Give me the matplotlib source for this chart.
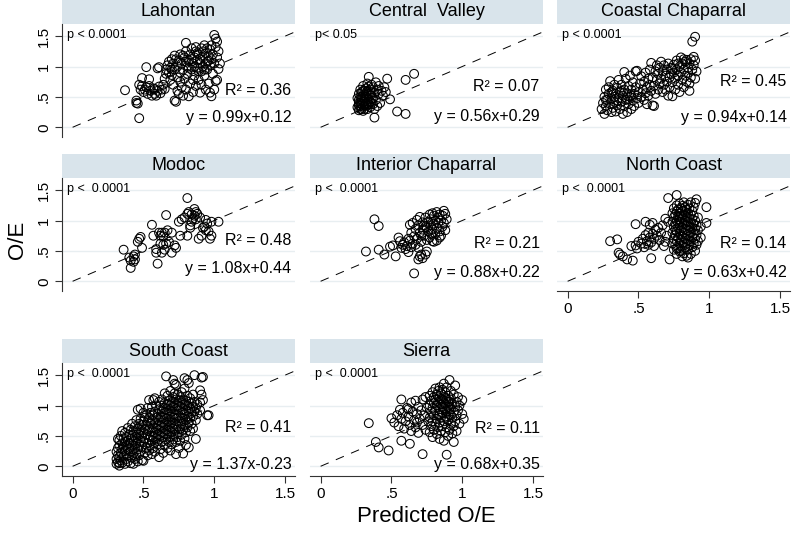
import numpy as np
import matplotlib
matplotlib.use("Agg")
import matplotlib.pyplot as plt
from matplotlib.patches import Rectangle

plt.rcParams['font.family'] = ['Liberation Sans', 'DejaVu Sans']

lahontan = [
    (0.37, 0.61), (0.45, 0.44), (0.45, 0.40), (0.46, 0.39), (0.47, 0.15), (0.52, 0.99), (0.60, 0.97),
    (0.61, 0.99), (0.49, 0.81), (0.54, 0.79), (0.47, 0.70), (0.48, 0.62), (0.50, 0.58), (0.52, 0.66),
    (0.53, 0.55), (0.55, 0.60), (0.56, 0.52), (0.57, 0.64), (0.58, 0.55), (0.59, 0.52), (0.60, 0.60),
    (0.61, 0.67), (0.62, 0.56), (0.63, 0.62), (0.64, 0.70), (0.65, 0.63), (0.49, 0.68), (0.51, 0.62),
    (0.54, 0.68), (0.58, 0.63), (0.65, 0.80), (0.66, 0.88), (0.66, 0.95), (0.67, 1.02), (0.68, 0.90),
    (0.68, 1.08), (0.69, 0.78), (0.69, 0.98), (0.70, 1.12), (0.70, 0.86), (0.71, 1.05), (0.71, 0.70),
    (0.72, 0.95), (0.72, 1.18), (0.73, 0.42), (0.72, 0.44), (0.74, 0.60), (0.74, 0.82), (0.74, 1.00),
    (0.75, 1.10), (0.75, 0.55), (0.76, 0.90), (0.76, 1.20), (0.77, 0.66), (0.77, 1.05), (0.78, 0.95),
    (0.78, 0.52), (0.79, 1.15), (0.79, 0.80), (0.80, 1.39), (0.80, 1.25), (0.80, 0.62), (0.81, 1.00),
    (0.81, 0.88), (0.82, 1.10), (0.82, 0.51), (0.83, 1.20), (0.83, 0.72), (0.84, 0.95), (0.84, 1.30),
    (0.85, 1.05), (0.85, 0.58), (0.86, 1.15), (0.86, 0.85), (0.87, 1.25), (0.87, 0.68), (0.88, 0.98),
    (0.88, 1.10), (0.89, 1.20), (0.89, 0.78), (0.90, 1.05), (0.90, 0.57), (0.91, 1.30), (0.91, 0.92),
    (0.92, 1.15), (0.92, 1.00), (0.93, 1.35), (0.93, 0.85), (0.94, 1.22), (0.94, 0.62), (0.95, 1.08),
    (0.95, 0.95), (0.96, 1.18), (0.96, 0.72), (0.97, 1.28), (0.97, 1.02), (0.98, 0.51), (0.98, 1.12),
    (0.99, 1.20), (0.99, 0.88), (1.00, 1.52), (1.00, 1.05), (1.01, 1.46), (1.01, 0.76), (1.01, 1.32),
    (1.02, 1.41), (1.02, 0.78), (1.02, 1.15), (1.03, 1.25), (1.04, 1.05), (1.03, 0.96), (1.00, 0.62),
    (0.97, 0.57), (0.86, 1.00), (0.88, 1.22), (0.90, 1.12), (0.92, 1.25), (0.94, 1.05), (0.96, 1.10),
    (0.84, 1.12), (0.82, 0.98), (0.80, 1.08), (0.78, 1.18), (0.89, 0.92), (0.93, 0.95), (0.95, 1.30),
    (0.98, 1.35), (0.87, 1.32), (0.91, 0.70), (0.85, 0.78), (0.76, 0.75), (0.73, 1.12), (0.70, 0.95),
]

central_valley = [
    (0.34, 0.83), (0.47, 0.80), (0.60, 0.78), (0.66, 0.88), (0.45, 0.66), (0.49, 0.46), (0.42, 0.40),
    (0.38, 0.16), (0.54, 0.26), (0.60, 0.22), (0.46, 0.58), (0.44, 0.52), (0.40, 0.62), (0.39, 0.74),
    (0.36, 0.70), (0.33, 0.72), (0.30, 0.68), (0.28, 0.62), (0.27, 0.55), (0.26, 0.48), (0.27, 0.40),
    (0.26, 0.33), (0.27, 0.28), (0.28, 0.35), (0.29, 0.45), (0.30, 0.52), (0.31, 0.60), (0.32, 0.50),
    (0.33, 0.42), (0.34, 0.55), (0.35, 0.62), (0.36, 0.48), (0.37, 0.38), (0.38, 0.57), (0.29, 0.30),
    (0.31, 0.36), (0.33, 0.30), (0.35, 0.33), (0.30, 0.42), (0.28, 0.50), (0.32, 0.64), (0.34, 0.67),
    (0.36, 0.58), (0.30, 0.27), (0.27, 0.45), (0.29, 0.58), (0.41, 0.55), (0.43, 0.60), (0.39, 0.45),
    (0.35, 0.42), (0.31, 0.47), (0.28, 0.40), (0.33, 0.36), (0.37, 0.66), (0.40, 0.35), (0.41, 0.68),
    (0.38, 0.30), (0.28, 0.30), (0.29, 0.38), (0.30, 0.34), (0.31, 0.42), (0.32, 0.38), (0.32, 0.56),
    (0.33, 0.60), (0.34, 0.46), (0.35, 0.52), (0.36, 0.40), (0.30, 0.60), (0.29, 0.50), (0.31, 0.30),
    (0.34, 0.38), (0.37, 0.48), (0.27, 0.36),
]

coastal_chaparral = [
    (0.24, 0.30), (0.25, 0.40), (0.26, 0.22), (0.26, 0.50), (0.27, 0.35), (0.27, 0.62), (0.28, 0.28),
    (0.28, 0.45), (0.29, 0.55), (0.30, 0.76), (0.30, 0.38), (0.31, 0.25), (0.31, 0.48), (0.32, 0.60),
    (0.32, 0.32), (0.33, 0.70), (0.33, 0.42), (0.34, 0.26), (0.34, 0.55), (0.35, 0.36), (0.35, 0.65),
    (0.36, 0.48), (0.36, 0.78), (0.37, 0.30), (0.37, 0.58), (0.38, 0.42), (0.38, 0.70), (0.39, 0.22),
    (0.39, 0.52), (0.40, 0.91), (0.40, 0.35), (0.40, 0.62), (0.41, 0.45), (0.41, 0.80), (0.42, 0.25),
    (0.42, 0.56), (0.43, 0.38), (0.43, 0.68), (0.44, 0.50), (0.44, 0.85), (0.45, 0.30), (0.45, 0.62),
    (0.46, 0.44), (0.46, 0.74), (0.47, 0.55), (0.47, 0.35), (0.48, 0.66), (0.48, 0.92), (0.49, 0.48),
    (0.49, 0.93), (0.50, 0.58), (0.50, 0.40), (0.29, 0.66), (0.31, 0.58), (0.35, 0.44), (0.38, 0.60),
    (0.42, 0.46), (0.45, 0.52), (0.33, 0.50), (0.27, 0.45), (0.51, 0.72), (0.52, 0.50), (0.52, 0.84),
    (0.53, 0.62), (0.54, 0.45), (0.54, 0.75), (0.55, 0.90), (0.55, 0.56), (0.56, 0.66), (0.56, 0.38),
    (0.57, 0.80), (0.57, 0.52), (0.58, 0.95), (0.58, 0.70), (0.59, 0.60), (0.59, 1.06), (0.60, 0.36),
    (0.60, 0.82), (0.61, 0.35), (0.61, 0.68), (0.62, 0.92), (0.62, 0.55), (0.63, 0.78), (0.63, 1.02),
    (0.64, 0.62), (0.64, 0.88), (0.65, 0.72), (0.65, 0.98), (0.66, 1.08), (0.66, 0.80), (0.67, 0.58),
    (0.67, 0.92), (0.68, 1.02), (0.68, 0.70), (0.69, 0.85), (0.69, 0.62), (0.70, 0.95), (0.70, 0.75),
    (0.71, 1.05), (0.71, 0.52), (0.72, 0.82), (0.72, 0.66), (0.73, 0.98), (0.73, 0.88), (0.74, 0.51),
    (0.74, 0.74), (0.75, 1.03), (0.75, 0.90), (0.76, 0.80), (0.76, 0.62), (0.77, 1.10), (0.77, 0.95),
    (0.78, 0.85), (0.78, 0.70), (0.79, 1.00), (0.79, 0.58), (0.80, 1.15), (0.80, 0.90), (0.81, 0.78),
    (0.81, 1.05), (0.82, 0.95), (0.82, 0.66), (0.83, 1.08), (0.83, 0.85), (0.84, 1.11), (0.84, 0.75),
    (0.85, 0.98), (0.85, 0.90), (0.86, 0.60), (0.86, 1.05), (0.87, 1.12), (0.87, 0.82), (0.88, 0.95),
    (0.88, 1.41), (0.89, 1.16), (0.89, 1.02), (0.90, 1.49), (0.90, 1.10), (0.91, 0.92), (0.90, 0.80),
    (0.74, 0.96), (0.78, 1.05), (0.82, 1.12), (0.86, 0.72),
]

modoc = [
    (0.36, 0.52), (0.40, 0.39), (0.41, 0.34), (0.41, 0.22), (0.43, 0.41), (0.44, 0.44), (0.44, 0.36),
    (0.43, 0.32), (0.46, 0.65), (0.47, 0.70), (0.48, 0.73), (0.49, 0.55), (0.56, 0.93), (0.60, 0.29),
    (0.59, 0.47), (0.59, 0.53), (0.57, 0.75), (0.61, 0.80), (0.62, 0.75), (0.63, 0.80), (0.64, 0.74),
    (0.65, 0.80), (0.62, 0.62), (0.64, 0.60), (0.66, 0.62), (0.63, 0.47), (0.65, 0.52), (0.67, 0.84),
    (0.66, 1.09), (0.70, 0.80), (0.72, 0.59), (0.70, 0.47), (0.73, 0.55), (0.68, 0.65), (0.75, 0.98),
    (0.76, 0.75), (0.77, 1.02), (0.79, 1.05), (0.81, 1.37), (0.81, 1.11), (0.82, 1.14), (0.83, 0.92),
    (0.84, 0.98), (0.85, 1.03), (0.83, 0.88), (0.86, 1.19), (0.87, 1.14), (0.88, 1.11), (0.87, 1.02),
    (0.89, 0.70), (0.91, 0.75), (0.93, 0.90), (0.94, 0.84), (0.95, 0.95), (0.94, 1.01), (0.96, 0.82),
    (0.97, 0.70), (0.98, 0.75), (0.98, 0.98), (1.03, 0.98), (0.81, 0.75), (0.84, 1.10), (0.86, 1.08),
    (0.90, 1.05), (0.92, 0.88),
]

interior_chaparral = [
    (0.38, 1.02), (0.41, 0.91), (0.32, 0.49), (0.41, 0.52), (0.45, 0.44), (0.49, 0.57), (0.51, 0.59),
    (0.53, 0.41), (0.55, 0.72), (0.58, 0.60), (0.59, 0.64), (0.57, 0.55), (0.61, 0.58), (0.62, 0.48),
    (0.60, 0.53), (0.63, 0.67), (0.66, 0.13), (0.69, 0.36), (0.70, 0.41), (0.71, 0.44), (0.74, 0.44),
    (0.75, 0.49), (0.72, 0.38), (0.63, 0.93), (0.65, 0.96), (0.68, 1.01), (0.70, 1.06), (0.64, 0.80),
    (0.66, 0.74), (0.67, 0.86), (0.68, 0.70), (0.69, 0.92), (0.70, 0.80), (0.71, 0.65), (0.72, 0.97),
    (0.72, 0.85), (0.73, 0.75), (0.74, 1.05), (0.74, 0.90), (0.75, 0.68), (0.76, 0.98), (0.76, 0.82),
    (0.77, 1.10), (0.77, 0.72), (0.78, 0.92), (0.78, 1.02), (0.79, 0.85), (0.79, 0.66), (0.80, 1.08),
    (0.80, 0.95), (0.80, 0.65), (0.81, 0.78), (0.81, 1.00), (0.82, 1.14), (0.82, 0.88), (0.82, 0.67),
    (0.83, 0.96), (0.83, 1.05), (0.84, 0.82), (0.84, 0.72), (0.85, 1.00), (0.85, 0.75), (0.86, 1.08),
    (0.86, 0.90), (0.87, 1.16), (0.87, 0.96), (0.88, 1.11), (0.88, 0.84), (0.89, 1.02), (0.75, 0.88),
    (0.78, 0.78), (0.73, 0.92), (0.71, 0.75), (0.79, 1.12), (0.84, 1.10), (0.62, 0.70), (0.65, 0.62),
    (0.67, 0.60), (0.56, 0.66), (0.64, 0.56), (0.69, 0.55),
]

north_coast = [
    (0.30, 0.66), (0.35, 0.69), (0.36, 0.47), (0.37, 0.44), (0.39, 0.41), (0.42, 0.36), (0.46, 0.34),
    (0.48, 0.94), (0.45, 0.58), (0.48, 0.59), (0.50, 0.65), (0.49, 0.54), (0.55, 0.98), (0.58, 0.93),
    (0.60, 0.96), (0.53, 0.70), (0.55, 0.76), (0.56, 0.66), (0.57, 0.80), (0.58, 0.72), (0.59, 0.64),
    (0.60, 0.78), (0.61, 0.70), (0.62, 0.85), (0.63, 0.75), (0.64, 0.88), (0.65, 0.68), (0.52, 0.62),
    (0.54, 0.56), (0.57, 0.60), (0.61, 0.58), (0.59, 0.38), (0.69, 1.03), (0.71, 0.98), (0.69, 0.65),
    (0.72, 0.36), (0.71, 1.37), (0.77, 1.42), (0.77, 0.54), (0.79, 0.49), (0.66, 0.80), (0.67, 0.92),
    (0.68, 0.58), (0.70, 0.75),
    (0.74, 0.62), (0.74, 0.80), (0.74, 0.98), (0.74, 1.12),
    (0.75, 0.52), (0.75, 0.70), (0.75, 0.90), (0.75, 1.05), (0.75, 1.20),
    (0.76, 0.60), (0.76, 0.76), (0.76, 0.85), (0.76, 0.95), (0.76, 1.10),
    (0.77, 0.45), (0.77, 0.66), (0.77, 0.82), (0.77, 1.00), (0.77, 1.15), (0.77, 1.25),
    (0.78, 0.55), (0.78, 0.72), (0.78, 0.88), (0.78, 0.96), (0.78, 1.06), (0.78, 1.18),
    (0.79, 0.62), (0.79, 0.78), (0.79, 0.92), (0.79, 1.02), (0.79, 1.12), (0.79, 1.28),
    (0.80, 0.50), (0.80, 0.68), (0.80, 0.84), (0.80, 0.98), (0.80, 1.08), (0.80, 1.20),
    (0.81, 0.41), (0.81, 0.58), (0.81, 0.74), (0.81, 0.88), (0.81, 1.04), (0.81, 1.16), (0.81, 1.24),
    (0.82, 0.46), (0.82, 0.64), (0.82, 0.80), (0.82, 0.94), (0.82, 1.10), (0.82, 1.30),
    (0.83, 0.55), (0.83, 0.70), (0.83, 0.86), (0.83, 1.00), (0.83, 1.14), (0.83, 1.22),
    (0.84, 0.42), (0.84, 0.62), (0.84, 0.76), (0.84, 0.92), (0.84, 1.06), (0.84, 1.18),
    (0.85, 0.39), (0.85, 0.52), (0.85, 0.68), (0.85, 0.84), (0.85, 0.98), (0.85, 1.12), (0.85, 1.26),
    (0.86, 0.60), (0.86, 0.74), (0.86, 0.90), (0.86, 1.04), (0.86, 1.20),
    (0.87, 0.45), (0.87, 0.66), (0.87, 0.80), (0.87, 0.96), (0.87, 1.10), (0.87, 1.30),
    (0.88, 0.56), (0.88, 0.72), (0.88, 0.88), (0.88, 1.02), (0.88, 1.16),
    (0.89, 0.62), (0.89, 0.78), (0.89, 0.94), (0.89, 1.08), (0.89, 1.22),
    (0.90, 0.50), (0.90, 0.70), (0.90, 0.86), (0.90, 1.00), (0.90, 1.29),
    (0.91, 0.60), (0.91, 0.76), (0.91, 0.92), (0.91, 1.35),
    (0.92, 0.66), (0.92, 0.84), (0.92, 1.05),
    (0.94, 0.72), (0.94, 0.90), (0.98, 0.96), (0.98, 1.22),
]

south_coast = [
    (0.31, 0.04), (0.31, 0.24), (0.31, 0.12),
    (0.32, 0.07), (0.32, 0.30), (0.32, 0.45), (0.32, 0.18),
    (0.33, 0.01), (0.33, 0.05), (0.33, 0.43), (0.33, 0.15), (0.33, 0.34),
    (0.34, 0.22), (0.34, 0.10), (0.34, 0.50),
    (0.35, 0.28), (0.35, 0.38), (0.35, 0.06), (0.35, 0.58),
    (0.36, 0.16), (0.36, 0.46), (0.36, 0.32),
    (0.37, 0.04), (0.37, 0.25), (0.37, 0.55), (0.37, 0.40),
    (0.38, 0.12), (0.38, 0.35), (0.38, 0.48), (0.38, 0.20),
    (0.39, 0.63), (0.39, 0.28), (0.39, 0.08), (0.39, 0.42),
    (0.40, 0.18), (0.40, 0.38), (0.40, 0.52), (0.40, 0.30),
    (0.41, 0.05), (0.41, 0.25), (0.41, 0.45), (0.41, 0.60),
    (0.42, 0.14), (0.42, 0.34), (0.42, 0.50), (0.42, 0.70),
    (0.43, 0.04), (0.43, 0.22), (0.43, 0.42), (0.43, 0.58),
    (0.44, 0.30), (0.44, 0.48), (0.44, 0.66), (0.44, 0.12),
    (0.45, 0.76), (0.45, 0.20), (0.45, 0.38), (0.45, 0.55),
    (0.46, 0.93), (0.46, 0.08), (0.46, 0.28), (0.46, 0.46), (0.46, 0.62),
    (0.47, 0.35), (0.47, 0.52), (0.47, 0.70), (0.47, 0.18),
    (0.48, 0.95), (0.48, 0.25), (0.48, 0.42), (0.48, 0.60), (0.48, 0.78),
    (0.49, 0.10), (0.49, 0.32), (0.49, 0.50), (0.49, 0.68),
    (0.50, 0.09), (0.50, 0.40), (0.50, 0.56), (0.50, 0.74), (0.50, 0.88),
    (0.51, 0.22), (0.51, 0.46), (0.51, 0.62), (0.51, 0.80),
    (0.52, 0.30), (0.52, 0.52), (0.52, 0.68), (0.52, 0.85),
    (0.53, 0.18), (0.53, 0.38), (0.53, 0.58), (0.53, 0.74), (0.53, 0.96),
    (0.54, 1.09), (0.54, 0.44), (0.54, 0.62), (0.54, 0.80), (0.54, 0.26),
    (0.55, 0.34), (0.55, 0.50), (0.55, 0.70), (0.55, 0.88),
    (0.56, 0.20), (0.56, 0.42), (0.56, 0.58), (0.56, 0.76), (0.56, 0.98),
    (0.57, 1.09), (0.57, 0.48), (0.57, 0.64), (0.57, 0.84), (0.57, 0.30),
    (0.58, 1.12), (0.58, 0.24), (0.58, 0.40), (0.58, 0.56), (0.58, 0.72), (0.58, 0.90),
    (0.59, 0.46), (0.59, 0.62), (0.59, 0.80), (0.59, 1.00),
    (0.60, 0.36), (0.60, 0.52), (0.60, 0.68), (0.60, 0.86),
    (0.61, 0.15), (0.61, 0.44), (0.61, 0.60), (0.61, 0.76), (0.61, 0.94), (0.61, 1.06),
    (0.62, 0.28), (0.62, 0.50), (0.62, 0.66), (0.62, 0.82), (0.62, 1.00),
    (0.63, 0.40), (0.63, 0.56), (0.63, 0.72), (0.63, 0.90), (0.63, 1.10),
    (0.64, 0.22), (0.64, 0.48), (0.64, 0.64), (0.64, 0.80), (0.64, 0.96),
    (0.65, 0.34), (0.65, 0.54), (0.65, 0.70), (0.65, 0.88), (0.65, 1.04), (0.65, 1.20),
    (0.66, 1.48), (0.66, 0.44), (0.66, 0.60), (0.66, 0.78), (0.66, 0.94),
    (0.67, 0.30), (0.67, 0.52), (0.67, 0.68), (0.67, 0.86), (0.67, 1.02), (0.67, 1.16),
    (0.68, 0.40), (0.68, 0.58), (0.68, 0.74), (0.68, 0.92), (0.68, 1.08),
    (0.69, 0.26), (0.69, 0.48), (0.69, 0.64), (0.69, 0.82), (0.69, 1.00), (0.69, 1.24),
    (0.70, 0.36), (0.70, 0.56), (0.70, 0.72), (0.70, 0.90), (0.70, 1.06),
    (0.71, 1.42), (0.71, 0.44), (0.71, 0.62), (0.71, 0.80), (0.71, 0.98), (0.71, 1.14),
    (0.72, 1.36), (0.72, 0.52), (0.72, 0.70), (0.72, 0.86), (0.72, 1.04), (0.72, 1.20),
    (0.73, 0.20), (0.73, 1.34), (0.73, 0.40), (0.73, 0.60), (0.73, 0.78), (0.73, 0.94), (0.73, 1.10),
    (0.74, 0.48), (0.74, 0.66), (0.74, 0.84), (0.74, 1.00), (0.74, 1.18),
    (0.75, 0.30), (0.75, 0.56), (0.75, 0.74), (0.75, 0.92), (0.75, 1.08),
    (0.76, 0.42), (0.76, 0.62), (0.76, 0.80), (0.76, 0.98), (0.76, 1.14),
    (0.77, 0.52), (0.77, 0.70), (0.77, 0.88), (0.77, 1.04), (0.77, 1.22),
    (0.78, 0.21), (0.78, 0.60), (0.78, 0.78), (0.78, 0.94), (0.78, 1.10),
    (0.79, 1.45), (0.79, 0.46), (0.79, 0.68), (0.79, 0.86), (0.79, 1.02), (0.79, 1.28),
    (0.80, 0.35), (0.80, 0.56), (0.80, 0.76), (0.80, 0.92), (0.80, 1.08),
    (0.81, 1.42), (0.81, 0.64), (0.81, 0.82), (0.81, 1.00), (0.81, 1.16),
    (0.82, 1.37), (0.82, 0.31), (0.82, 0.72), (0.82, 0.90), (0.82, 1.06),
    (0.83, 0.58), (0.83, 0.80), (0.83, 0.96), (0.83, 1.12),
    (0.84, 0.70), (0.84, 0.88), (0.84, 1.04),
    (0.85, 0.62), (0.85, 0.82), (0.85, 0.98), (0.85, 1.18),
    (0.86, 1.50), (0.86, 0.90), (0.86, 1.06),
    (0.87, 0.45), (0.87, 0.76), (0.87, 0.96),
    (0.88, 0.86), (0.88, 1.02),
    (0.90, 1.25), (0.90, 1.05), (0.90, 0.92),
    (0.91, 1.46), (0.91, 1.18), (0.92, 1.47), (0.92, 1.09),
    (0.95, 0.84), (0.96, 0.84),
]

sierra = [
    (0.34, 0.71), (0.39, 0.40), (0.41, 0.31), (0.48, 0.26), (0.57, 0.42), (0.63, 0.37), (0.72, 0.20),
    (0.89, 0.19), (0.50, 0.79), (0.56, 0.93), (0.57, 1.10),
    (0.52, 0.72), (0.54, 0.84), (0.55, 0.66), (0.57, 0.78), (0.58, 0.88), (0.59, 0.62), (0.60, 0.74),
    (0.61, 0.96), (0.62, 0.82), (0.63, 0.68), (0.64, 1.05), (0.64, 0.58), (0.65, 0.90), (0.66, 0.76),
    (0.67, 1.08), (0.67, 0.64), (0.68, 0.86), (0.69, 0.98), (0.69, 0.55), (0.70, 0.78), (0.71, 0.92),
    (0.72, 0.68), (0.72, 1.10), (0.73, 0.84), (0.74, 0.60), (0.75, 0.96), (0.76, 0.74), (0.74, 1.14),
    (0.68, 0.72), (0.62, 0.94),
    (0.77, 0.56), (0.77, 0.80), (0.77, 1.00), (0.77, 1.16),
    (0.78, 0.66), (0.78, 0.90), (0.78, 1.08),
    (0.79, 0.48), (0.79, 0.74), (0.79, 0.96), (0.79, 1.22),
    (0.80, 0.60), (0.80, 0.84), (0.80, 1.04), (0.80, 1.14),
    (0.81, 0.70), (0.81, 0.92), (0.81, 1.10), (0.81, 1.28),
    (0.82, 0.53), (0.82, 0.78), (0.82, 1.00), (0.82, 1.18),
    (0.83, 0.64), (0.83, 0.86), (0.83, 1.06), (0.83, 1.24),
    (0.84, 0.45), (0.84, 0.72), (0.84, 0.94), (0.84, 1.12), (0.84, 1.30),
    (0.85, 0.58), (0.85, 0.80), (0.85, 1.02), (0.85, 1.20),
    (0.86, 0.66), (0.86, 0.88), (0.86, 1.08), (0.86, 1.26),
    (0.87, 0.42), (0.87, 0.74), (0.87, 0.96), (0.87, 1.14), (0.87, 1.36),
    (0.88, 0.56), (0.88, 0.82), (0.88, 1.02), (0.88, 1.22),
    (0.89, 0.64), (0.89, 0.90), (0.89, 1.10), (0.89, 1.30),
    (0.90, 0.50), (0.90, 0.76), (0.90, 0.98), (0.90, 1.16),
    (0.91, 0.60), (0.91, 0.86), (0.91, 1.06), (0.91, 1.42),
    (0.92, 0.70), (0.92, 0.94), (0.92, 1.12), (0.92, 1.24),
    (0.93, 0.54), (0.93, 0.80), (0.93, 1.02),
    (0.94, 0.40), (0.94, 0.66), (0.94, 0.90), (0.94, 1.18),
    (0.95, 0.74), (0.95, 0.98), (0.95, 1.33),
    (0.96, 0.58), (0.96, 0.84), (0.96, 1.06),
    (0.97, 0.92), (0.97, 1.14), (0.98, 0.70), (0.98, 1.00),
    (1.00, 1.09), (1.00, 0.86), (1.01, 0.78),
    (0.84, 0.84), (0.86, 0.98), (0.88, 0.92), (0.90, 1.06), (0.92, 0.84), (0.88, 1.12), (0.85, 1.10),
    (0.89, 0.80), (0.91, 0.96), (0.87, 1.04),
]

titles = ["Lahontan", "Central  Valley", "Coastal Chaparral", "Modoc", "Interior Chaparral",
          "North Coast", "South Coast", "Sierra"]
datasets = [lahontan, central_valley, coastal_chaparral, modoc, interior_chaparral,
            north_coast, south_coast, sierra]
p_text = ["p < 0.0001", "p< 0.05", "p < 0.0001", "p <  0.0001", "p <  0.0001",
          "p <  0.0001", "p <  0.0001", "p <  0.0001"]
r2 = ["0.36", "0.07", "0.45", "0.48", "0.21", "0.14", "0.41", "0.11"]
eqs = ["y = 0.99x+0.12", "y = 0.56x+0.29", "y = 0.94x+0.14", "y = 1.08x+0.44",
       "y = 0.88x+0.22", "y = 0.63x+0.42", "y = 1.37x-0.23", "y = 0.68x+0.35"]

ticks = [0, 0.5, 1, 1.5]
tick_labels = ["0", ".5", "1", "1.5"]

# layout (pixels) mimicking the Stata by-graph
W, H = 794, 534
col_left = [62, 310, 557]
row_top = [24, 178, 363]
pw, ph = 233, 113
strip_h = 24
cells = [(0, 0), (0, 1), (0, 2), (1, 0), (1, 1), (1, 2), (2, 0), (2, 1)]
r2_y = [0.41, 0.45, 0.49, 0.45, 0.42, 0.42, 0.43, 0.42]
eq_y = [0.17, 0.18, 0.17, 0.20, 0.16, 0.16, 0.10, 0.10]
bottom_panels = {5, 6, 7}

strip_color = (217 / 255, 228 / 255, 235 / 255)
grid_color = "#e8eef1"

fig = plt.figure(figsize=(W / 100, H / 100), dpi=100)

for i, (r, c) in enumerate(cells):
    ax = fig.add_axes([col_left[c] / W, 1 - (row_top[r] + ph) / H, pw / W, ph / H])
    pts = np.array(datasets[i])
    ax.set_xlim(-0.075, 1.57)
    ax.set_ylim(-0.16, 1.70)

    ax.set_yticks(ticks)
    ax.set_xticks(ticks)
    ax.yaxis.grid(True, color=grid_color, lw=1.0)
    ax.set_axisbelow(True)

    ax.plot([0, 1.8], [0, 1.8], color="black", lw=0.7, dashes=(9, 8), zorder=2)
    ax.scatter(pts[:, 0], pts[:, 1], s=40, facecolors="none", edgecolors="black",
               linewidths=0.75, zorder=3)

    for sp in ax.spines.values():
        sp.set_visible(False)

    if c == 0:
        ax.spines["left"].set_visible(True)
        ax.spines["left"].set_color("#333333")
        ax.set_yticklabels(tick_labels, rotation=90, va="center", fontsize=11)
        ax.tick_params(axis="y", length=5, width=0.8, color="#333333", pad=3)
    else:
        ax.tick_params(axis="y", left=False, labelleft=False)

    if i in bottom_panels:
        ax.spines["bottom"].set_visible(True)
        ax.spines["bottom"].set_color("#333333")
        ax.set_xticklabels(tick_labels, fontsize=11)
        ax.tick_params(axis="x", length=5, width=0.8, color="#333333", pad=3)
    else:
        ax.tick_params(axis="x", bottom=False, labelbottom=False)

    # strip header
    ax.add_patch(Rectangle((0, 1), 1, strip_h / ph, transform=ax.transAxes,
                           facecolor=strip_color, edgecolor="none", clip_on=False))
    ax.text(0.5, 1 + strip_h / ph / 2, titles[i], transform=ax.transAxes,
            ha="center", va="center", fontsize=13)

    ax.text(0.02, 0.905, p_text[i], transform=ax.transAxes, ha="left", va="center", fontsize=9)
    ax.text(0.985, r2_y[i], "R\u00b2 = " + r2[i], transform=ax.transAxes,
            ha="right", va="center", fontsize=11.5)
    ax.text(0.985, eq_y[i], eqs[i], transform=ax.transAxes,
            ha="right", va="center", fontsize=11.5)

fig.text(17 / W, 1 - 240 / H, "O/E", rotation=90, ha="center", va="center", fontsize=16)
fig.text(426 / W, 1 - 516 / H, "Predicted O/E", ha="center", va="center", fontsize=16)

fig.savefig("out.png", dpi=100)
